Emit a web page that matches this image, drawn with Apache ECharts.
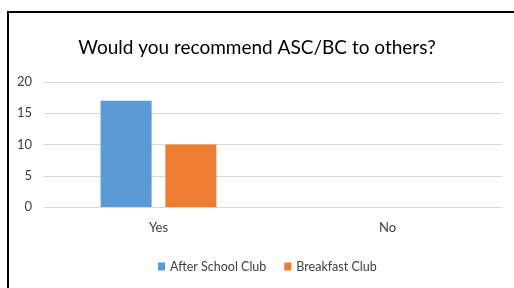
<!DOCTYPE html>
<html>
<head>
<meta charset="UTF-8">
<script src="https://cdn.jsdelivr.net/npm/echarts@6/dist/echarts.min.js"></script>
<style>
  html, body { margin: 0; padding: 0; background: #fff; }
  #frame { position: absolute; left: 7px; top: 11px; width: 520px; height: 290px; border-left: 2px solid #000; border-top: 2px solid #000; }
  #chart { position: absolute; left: 0; top: 0; width: 514px; height: 288px; }
</style>
</head>
<body>
<div id="frame"></div>
<div id="chart"></div>
<script>
const categories = ['Yes', 'No'];
const afterSchool = [17, 0];
const breakfast = [10, 0];

const chart = echarts.init(document.getElementById('chart'));
const font = 'Lato, "Open Sans", sans-serif';

chart.setOption({
  animation: false,
  title: {
    text: 'Would you recommend ASC/BC to others?',
    left: 'center',
    top: 33,
    textStyle: { fontFamily: font, fontSize: 19, fontWeight: 'normal', color: '#000' }
  },
  legend: {
    bottom: 10,
    left: 153,
    itemWidth: 7,
    itemHeight: 8,
    itemGap: 18,
    icon: 'rect',
    textStyle: { fontFamily: font, fontSize: 12.5, color: '#404040' },
    data: ['After School Club', 'Breakfast Club']
  },
  grid: { left: 44, right: 12, top: 82, bottom: 81 },
  xAxis: {
    type: 'category',
    data: categories,
    axisLine: { lineStyle: { color: '#d9d9d9' } },
    axisTick: { show: false },
    axisLabel: { fontFamily: font, fontSize: 13, color: '#404040', margin: 14 }
  },
  yAxis: {
    type: 'value',
    min: 0,
    max: 20,
    interval: 5,
    axisLine: { show: false },
    axisTick: { show: false },
    splitLine: { lineStyle: { color: '#d9d9d9' } },
    axisLabel: { fontFamily: font, fontSize: 13, color: '#404040', margin: 12 }
  },
  series: [
    { name: 'After School Club', type: 'bar', data: afterSchool, barWidth: 51, barGap: '27%', itemStyle: { color: '#5b9bd5' } },
    { name: 'Breakfast Club', type: 'bar', data: breakfast, barWidth: 51, itemStyle: { color: '#ed7d31' } }
  ]
});
</script>
</body>
</html>
